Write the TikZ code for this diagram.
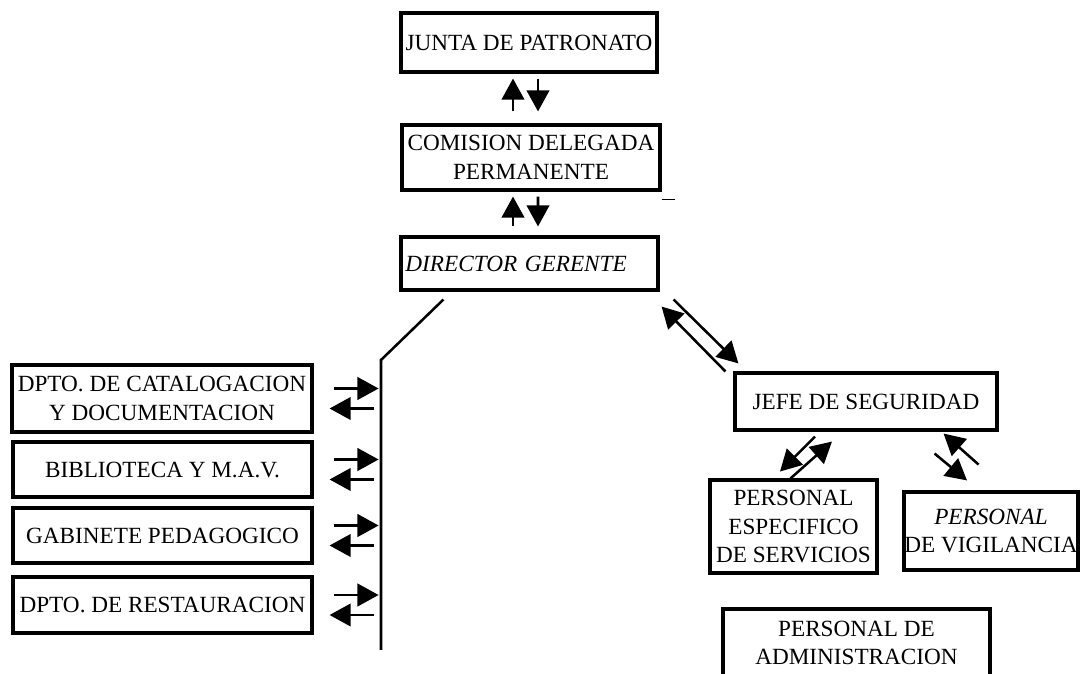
\documentclass[tikz,border=0pt]{standalone}
\usepackage{fontspec}
\setmainfont{Liberation Serif}
\usetikzlibrary{arrows.meta,calc}

\tikzset{
  box/.style={draw, line width=2.2pt, inner sep=0pt, align=center,
    font=\fontsize{16.5}{20.5}\selectfont},
  arr/.style={line width=1.8pt, -{Triangle[length=15pt,width=16pt]}},
}

\begin{document}
\begin{tikzpicture}[x=0.025cm, y=-0.025cm]
	\useasboundingbox (0,0) rectangle (1081,674);

	% top of the chain
	\node[box, minimum width=6.4cm, minimum height=1.475cm] (junta) at (529,42.5) {JUNTA DE PATRONATO};
	\node[box, minimum width=6.45cm, minimum height=1.625cm] (comision) at (531,157.5) {COMISION DELEGADA\\PERMANENTE};
	\node[box, minimum width=6.425cm, minimum height=1.325cm, text width=6.2cm, align=left] (director) at (529.5,263.5) {\itshape DIRECTOR GERENTE};

	\draw[arr] ($(comision.north)+(-18,-12)$) -- ($(junta.south)+(-16,5)$);
	\draw[arr] ($(junta.south)+(9,5)$) -- ($(comision.north)+(7,-12)$);
	\draw[arr] ($(director.north)+(-16.5,-9)$) -- ($(comision.south)+(-18,5)$);
	\draw[arr] ($(comision.south)+(7,5)$) -- ($(director.north)+(8.5,-9)$);
	\draw[line width=1.2pt] ($(comision.south east)+(0,8)$) -- ++(13,0);

	% departamentos
	\node[box, minimum width=7.5cm, minimum height=1.675cm] (cat) at (162,398.5) {DPTO. DE CATALOGACION\\Y DOCUMENTACION};
	\node[box, minimum width=7.475cm, minimum height=1.375cm] (bib) at (162.5,469.5) {BIBLIOTECA Y M.A.V.};
	\node[box, minimum width=7.475cm, minimum height=1.375cm] (gab) at (162.5,535.5) {GABINETE PEDAGOGICO};
	\node[box, minimum width=7.475cm, minimum height=1.4cm] (rest) at (162.5,605) {DPTO. DE RESTAURACION};

	\coordinate (bustop) at (381,360);
	\coordinate (busend) at (381,650);
	\draw[line width=1.8pt] ($(director.south west)+(44,8)$) -- (bustop) -- (busend);

	\draw[arr] ($(cat.east)+(20,-10)$) -- ($(cat.east)+(65,-10)$);
	\draw[arr] ($(cat.east)+(60,10)$) -- ($(cat.east)+(16,10)$);
	\draw[arr] ($(bib.east)+(20,-10)$) -- ($(bib.east)+(65,-10)$);
	\draw[arr] ($(bib.east)+(60,10)$) -- ($(bib.east)+(16,10)$);
	\draw[arr] ($(gab.east)+(20,-10)$) -- ($(gab.east)+(65,-10)$);
	\draw[arr] ($(gab.east)+(60,10)$) -- ($(gab.east)+(16,10)$);
	\draw[arr] ($(rest.east)+(20,-10)$) -- ($(rest.east)+(65,-10)$);
	\draw[arr] ($(rest.east)+(60,10)$) -- ($(rest.east)+(16,10)$);

	% seguridad
	\node[box, minimum width=6.55cm, minimum height=1.425cm] (jefe) at (866,401.5) {JEFE DE SEGURIDAD};
	\node[box, minimum width=4.175cm, minimum height=2.325cm] (espec) at (793.5,526.5) {PERSONAL\\ESPECIFICO\\DE SERVICIOS};
	\node[box, minimum width=4.35cm, minimum height=1.95cm] (vigil) at (991,531) {\textit{PERSONAL}\\DE VIGILANCIA};
	\node[box, minimum width=6.675cm, minimum height=1.7cm] (admin) at (856.5,643) {PERSONAL DE\\ADMINISTRACION};

	\draw[arr] ($(director.south east)+(14,8)$) -- ($(jefe.north west)+(5,-8)$);
	\draw[arr] ($(jefe.north west)+(-8,0)$) -- ($(director.south east)+(2,15)$);
	\draw[arr] ($(jefe.south)+(-51,5)$) -- ($(jefe.south)+(-86,40)$);
	\draw[arr] ($(espec.north)+(-3,0)$) -- ($(jefe.south)+(-34,10)$);
	\draw[arr] ($(jefe.south east)+(-20,33)$) -- ($(jefe.south east)+(-55,2)$);
	\draw[arr] ($(jefe.south east)+(-64,22)$) -- ($(vigil.north)+(-24,-10)$);

\end{tikzpicture}
\end{document}
